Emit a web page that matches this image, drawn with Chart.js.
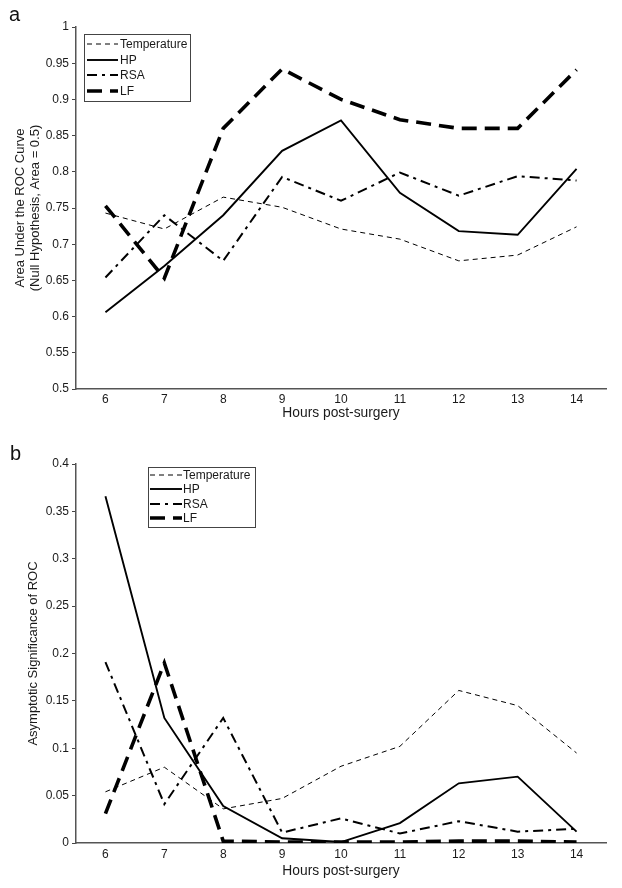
<!DOCTYPE html>
<html>
<head>
<meta charset="utf-8">
<script src="https://cdn.jsdelivr.net/npm/chart.js@4.4.1/dist/chart.umd.min.js"></script>
<style>
  html, body { margin: 0; padding: 0; background: #fff; }
  #wrap { position: relative; width: 622px; height: 888px; }
  canvas { position: absolute; left: 0; }
  #chartA { top: 0; }
  #chartB { top: 440px; }
</style>
</head>
<body>
<div id="wrap">
  <canvas id="chartA" width="622" height="440"></canvas>
  <canvas id="chartB" width="622" height="448"></canvas>
</div>
<script>
// categories
const hours = ['6', '7', '8', '9', '10', '11', '12', '13', '14'];
const seriesNames = ['Temperature', 'HP', 'RSA', 'LF'];

// panel a: area under the ROC curve
const aucTemperature = [0.743, 0.721, 0.765, 0.751, 0.721, 0.707, 0.677, 0.685, 0.724];
const aucHP          = [0.606, 0.670, 0.740, 0.829, 0.871, 0.771, 0.718, 0.713, 0.804];
const aucRSA         = [0.654, 0.740, 0.677, 0.793, 0.760, 0.799, 0.767, 0.794, 0.788];
const aucLF          = [0.753, 0.653, 0.860, 0.942, 0.900, 0.872, 0.860, 0.860, 0.941];

// panel b: asymptotic significance
const sigTemperature = [0.054, 0.080, 0.036, 0.047, 0.081, 0.102, 0.161, 0.145, 0.095];
const sigHP          = [0.366, 0.132, 0.039, 0.005, 0.001, 0.021, 0.063, 0.070, 0.012];
const sigRSA         = [0.191, 0.041, 0.132, 0.011, 0.026, 0.010, 0.023, 0.012, 0.015];
const sigLF          = [0.031, 0.190, 0.002, 0.001, 0.001, 0.001, 0.002, 0.002, 0.001];

// y ticks
const aucTicks = { min: 0.5, max: 1, step: 0.05 };
const sigTicks = { min: 0, max: 0.4, step: 0.05 };

const FONT = "'Liberation Sans', Arial, Helvetica, sans-serif";
Chart.defaults.font.family = FONT;
Chart.defaults.color = '#1a1a1a';

// line look per series (same order as seriesNames)
const lineStyles = [
  { width: 1,   dash: [5, 4] },
  { width: 1.9, dash: [] },
  { width: 2,   dash: [10, 5, 3, 5] },
  { width: 3.6, dash: [15, 8] }
];

// legend box drawn inside the plot, plus panel letter
const boxLegend = {
  id: 'boxLegend',
  afterDraw(chart, args, o) {
    const ctx = chart.ctx;
    ctx.save();
    ctx.fillStyle = '#fff';
    ctx.fillRect(o.x, o.y, o.w, o.h);
    ctx.strokeStyle = '#444';
    ctx.lineWidth = 1;
    ctx.setLineDash([]);
    ctx.strokeRect(o.x + 0.5, o.y + 0.5, o.w, o.h);
    chart.data.datasets.forEach((ds, i) => {
      const y = Math.round(o.y + o.first + i * o.step);
      ctx.beginPath();
      ctx.setLineDash(ds.borderDash || []);
      ctx.lineWidth = ds.borderWidth;
      ctx.strokeStyle = '#000';
      ctx.moveTo(o.x + o.sx, y);
      ctx.lineTo(o.x + o.sx + o.sample, y);
      ctx.stroke();
      ctx.setLineDash([]);
      ctx.fillStyle = '#1a1a1a';
      ctx.font = '12px ' + FONT;
      ctx.textBaseline = 'middle';
      ctx.textAlign = 'left';
      ctx.fillText(ds.label, o.x + o.textX, y + 0.5);
    });
    ctx.font = '20px ' + FONT;
    ctx.textBaseline = 'alphabetic';
    ctx.fillStyle = '#111';
    ctx.fillText(o.letter, o.lx, o.ly);
    ctx.restore();
  }
};

function makeChart(id, values, ticks, cfg) {
  const datasets = seriesNames.map((name, i) => ({
    label: name,
    data: values[i],
    borderColor: '#000',
    borderWidth: lineStyles[i].width,
    borderDash: lineStyles[i].dash,
    pointRadius: 0,
    tension: 0,
    fill: false
  }));
  return new Chart(document.getElementById(id), {
    type: 'line',
    data: { labels: hours, datasets },
    plugins: [boxLegend],
    options: {
      responsive: false,
      animation: false,
      devicePixelRatio: 1,
      layout: { padding: { left: 0, right: 16, top: cfg.top, bottom: 0 } },
      plugins: {
        legend: { display: false },
        tooltip: { enabled: false },
        boxLegend: cfg.legend
      },
      scales: {
        x: {
          type: 'category',
          offset: true,
          grid: { display: true, drawOnChartArea: false, drawTicks: false, color: '#444' },
          border: { display: true, color: '#555', width: 1.5 },
          ticks: { padding: cfg.xPad, font: { size: 12 }, color: '#1a1a1a' },
          title: {
            display: true, text: 'Hours post-surgery',
            font: { size: 13.8, lineHeight: '15px' }, color: '#1a1a1a',
            padding: { top: 0, bottom: cfg.xTitleBottom }
          },
          afterFit(s) { s.height = cfg.xHeight; }
        },
        y: {
          min: ticks.min, max: ticks.max,
          grid: { drawOnChartArea: false, drawTicks: true, tickLength: 4, color: '#444' },
          border: { display: true, color: '#555', width: 1.5 },
          ticks: {
            stepSize: ticks.step, padding: 3, font: { size: 12 }, color: '#1a1a1a',
            callback: v => String(+Number(v).toFixed(2))
          },
          title: {
            display: true, text: cfg.yTitle,
            font: { size: 13, lineHeight: '15px' }, color: '#1a1a1a',
            padding: { top: cfg.yTitleTop, bottom: 0 }
          },
          afterFit(s) { s.width = 76; }
        }
      }
    }
  });
}

makeChart('chartA', [aucTemperature, aucHP, aucRSA, aucLF], aucTicks, {
  top: 27, xHeight: 51, xPad: 3, xTitleBottom: 19.5,
  yTitle: ['Area Under the ROC Curve', '(Null Hypothesis, Area = 0.5)'],
  yTitleTop: 12.5,
  legend: { x: 84, y: 34, w: 106, h: 67, first: 10, step: 15.7, sx: 3, sample: 31, textX: 36, letter: 'a', lx: 9, ly: 21 }
});

makeChart('chartB', [sigTemperature, sigHP, sigRSA, sigLF], sigTicks, {
  top: 24, xHeight: 45, xPad: 4, xTitleBottom: 9.5,
  yTitle: 'Asymptotic Significance of ROC',
  yTitleTop: 25.5,
  legend: { x: 148, y: 27, w: 107, h: 60, first: 8, step: 14.3, sx: 2, sample: 32, textX: 35, letter: 'b', lx: 10, ly: 20 }
});
</script>
</body>
</html>
